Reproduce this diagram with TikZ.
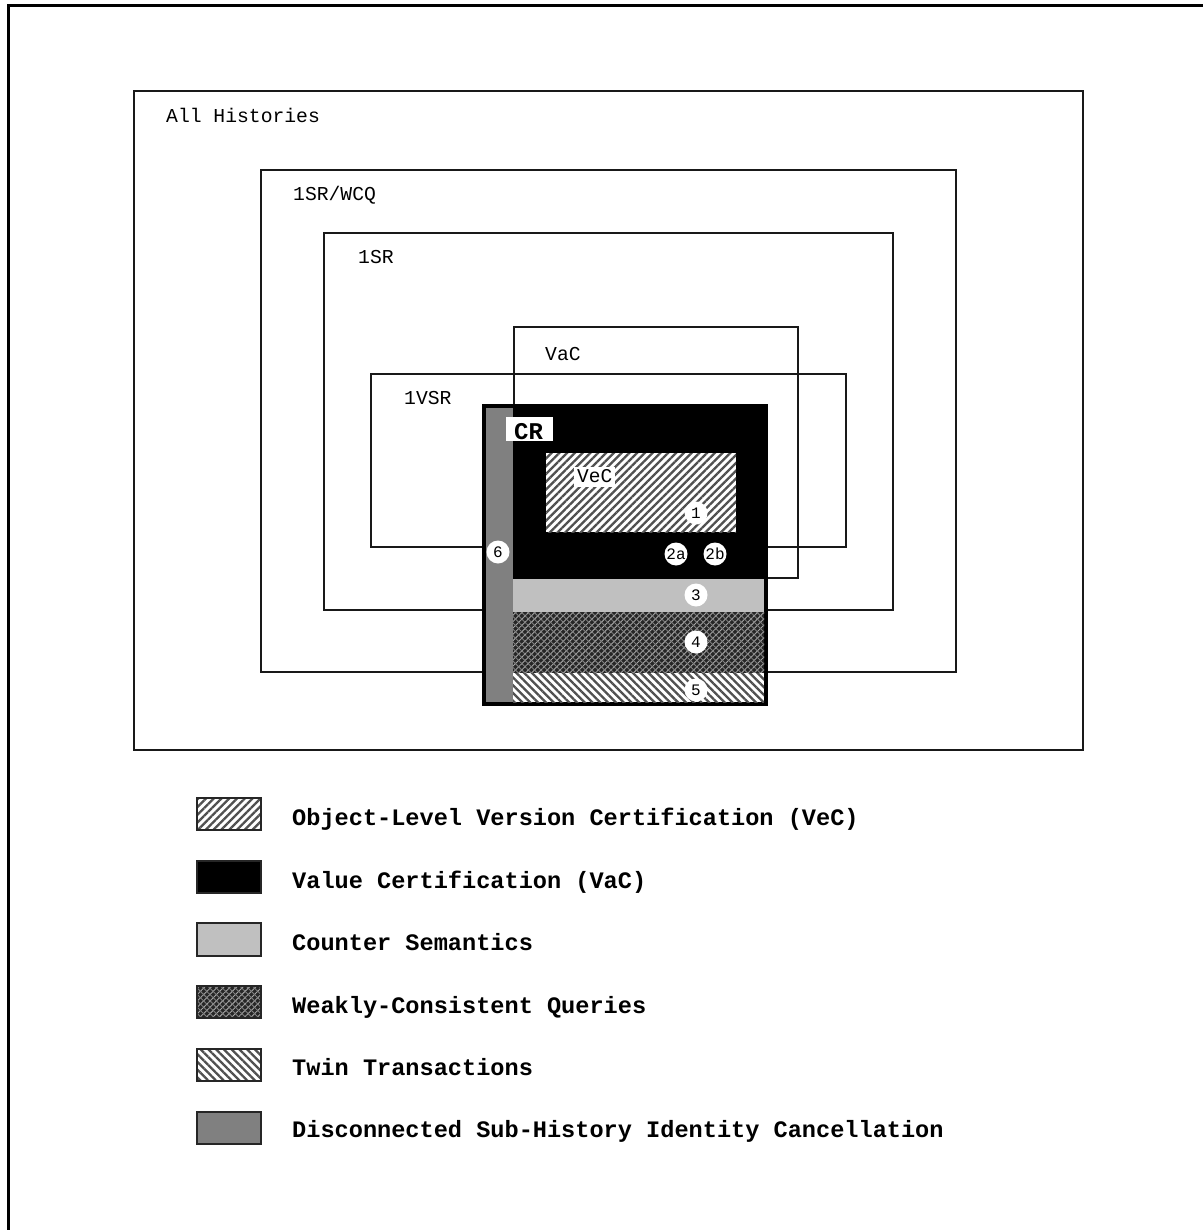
\documentclass[tikz,border=0pt]{standalone}
\usepackage{fontspec}
\setmainfont{Liberation Mono}
\usetikzlibrary{patterns.meta}
\definecolor{hatchgray}{HTML}{505050}
\definecolor{lightband}{HTML}{C0C0C0}
\definecolor{stripgray}{HTML}{808080}
\tikzset{
  setbox/.style={draw=black!90, line width=2pt},
  setlabel/.style={anchor=base west, inner sep=0pt, font=\fontsize{19.7}{20}\selectfont},
  legtext/.style={anchor=base west, inner sep=0pt, font=\bfseries\fontsize{23.6}{24}\selectfont},
  swatch/.style={draw=black!85, line width=2pt},
  vechatch/.style={pattern={Lines[angle=45,distance=5.5pt,line width=2.3pt]}, pattern color=hatchgray},
  twinhatch/.style={pattern={Lines[angle=-45,distance=5.5pt,line width=2.3pt]}, pattern color=hatchgray},
  numcirc/.style={circle, fill=white, minimum size=23pt, inner sep=0pt, font=\fontsize{16}{16}\selectfont},
}
\newcommand{\wcqfill}[1]{%
  \fill[black!85] #1;
  \fill[pattern={Lines[angle=45,distance=4.5pt,line width=0.9pt]}, pattern color=white!65!black] #1;
  \fill[pattern={Lines[angle=-45,distance=4.5pt,line width=0.9pt]}, pattern color=white!50!black] #1;
}
\begin{document}
\begin{tikzpicture}[x=1pt,y=-1pt]
\useasboundingbox (0,0) rectangle (1203,1230);
\fill[white] (0,0) rectangle (1203,1230);
% outer frame (left and top edges)
\draw[line width=3pt] (8.5,1230) -- (8.5,5.5) -- (1203,5.5);

% set boxes
\draw[setbox] (134,91) rectangle (1083,750);
\node[setlabel] (lall) at (166,123) {All Histories};
\draw[setbox] (261,170) rectangle (956,672);
\node[setlabel] (lwcq) at (293,201) {1SR/WCQ};
\draw[setbox] (324,233) rectangle (893,610);
\node[setlabel] (lsr) at (358,264) {1SR};
\draw[setbox] (514,327) rectangle (798,578);
\node[setlabel] (lvac) at (545,360) {VaC};
\draw[setbox] (371,374) rectangle (846,547);
\node[setlabel] (lvsr) at (404,404) {1VSR};

% CR box
\draw[fill=black, draw=black, line width=4pt] (484,406) rectangle (766,704);
\fill[stripgray] (486,408) rectangle (513,702);
\fill[lightband] (513,579) rectangle (764,612);
\wcqfill{(513,612) rectangle (764,673)}
\fill[white] (513,673) rectangle (764,702);
\fill[twinhatch] (513,673) rectangle (764,702);
\fill[white] (546,453) rectangle (736,532);
\fill[vechatch] (546,453) rectangle (736,532);

\fill[white] (506,417) rectangle (553,441);
\node[anchor=base west, inner sep=0pt, font=\bfseries\fontsize{24}{24}\selectfont] (lcr) at (514,439) {CR};
\node[anchor=base west, fill=white, inner xsep=3pt, inner ysep=0pt, text depth=5pt, text height=15pt, font=\fontsize{19.5}{20}\selectfont] (lvec) at (574,482) {VeC};

% numbered circles
\node[numcirc] (c1) at (696,513) {1};
\node[numcirc] (c2a) at (676,554) {2a};
\node[numcirc] (c2b) at (715,554) {2b};
\node[numcirc] (c3) at (696,595) {3};
\node[numcirc] (c4) at (696,642) {4};
\node[numcirc] (c5) at (696,690) {5};
\node[numcirc] (c6) at (498,552) {6};

% legend
\fill[white] (197,798) rectangle (261,830);
\draw[swatch, vechatch] (197,798) rectangle (261,830);
\node[legtext] (t1) at (292,825) {Object-Level Version Certification (VeC)};
\draw[swatch, fill=black] (197,861) rectangle (261,893);
\node[legtext] (t2) at (292,888) {Value Certification (VaC)};
\draw[swatch, fill=lightband] (197,923) rectangle (261,956);
\node[legtext] (t3) at (292,950) {Counter Semantics};
\wcqfill{(197,986) rectangle (261,1018)}
\draw[swatch] (197,986) rectangle (261,1018);
\node[legtext] (t4) at (292,1013) {Weakly-Consistent Queries};
\draw[swatch, twinhatch] (197,1049) rectangle (261,1081);
\node[legtext] (t5) at (292,1075) {Twin Transactions};
\draw[swatch, fill=stripgray] (197,1112) rectangle (261,1144);
\node[legtext] (t6) at (292,1137) {Disconnected Sub-History Identity Cancellation};
\end{tikzpicture}
\end{document}
